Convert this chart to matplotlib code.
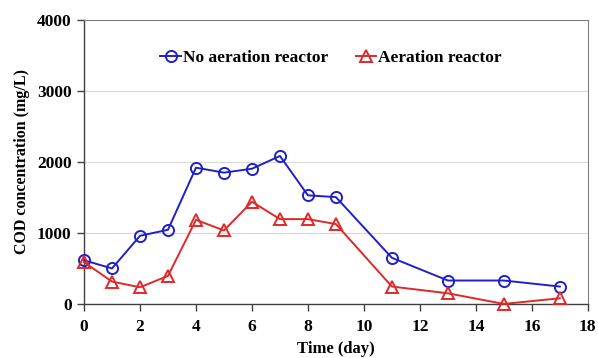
import matplotlib
matplotlib.use("Agg")
import matplotlib.pyplot as plt

plt.rcParams['font.family'] = ['Liberation Serif', 'DejaVu Serif']
plt.rcParams['font.weight'] = 'bold'

days = [0, 1, 2, 3, 4, 5, 6, 7, 8, 9, 11, 13, 15, 17]
no_aeration = [615, 500, 960, 1045, 1920, 1850, 1905, 2085, 1530, 1505, 650, 330, 330, 245]
aeration = [590, 315, 235, 395, 1185, 1035, 1440, 1195, 1195, 1125, 245, 150, 0, 80]

fig = plt.figure(figsize=(5.98, 3.58), dpi=100)
ax = fig.add_axes([0.1405, 0.151, 0.8425, 0.793])

ax.plot(days, no_aeration, color='#2020c8', marker='o', markersize=8,
        markerfacecolor='none', markeredgewidth=1.4, linewidth=1.4,
        label='No aeration reactor', clip_on=False, zorder=3)
ax.plot(days, aeration, color='#e02828', marker='^', markersize=8,
        markerfacecolor='none', markeredgewidth=1.4, linewidth=1.4,
        label='Aeration reactor', clip_on=False, zorder=3)

ax.set_xlim(0, 18)
ax.set_ylim(0, 4000)
ax.set_xticks(range(0, 19, 2))
ax.set_yticks(range(0, 4001, 1000))
ax.grid(axis='y', color='#d9d9d9', linewidth=0.8)
ax.set_axisbelow(True)

for s in ['left', 'bottom']:
    ax.spines[s].set_color('#404040')
    ax.spines[s].set_linewidth(1.0)
for s in ['top', 'right']:
    ax.spines[s].set_color('#808080')
    ax.spines[s].set_linewidth(0.8)

ax.tick_params(direction='out', length=5, width=1, color='#404040',
               labelsize=12.5)
ax.tick_params(axis='x', pad=6)
ax.tick_params(axis='y', pad=4)
for lbl in ax.get_xticklabels() + ax.get_yticklabels():
    lbl.set_fontweight('bold')

ax.set_xlabel('Time (day)', fontsize=12, fontweight='bold', labelpad=4)
ax.set_ylabel('COD concentration (mg/L)', fontsize=11.5, fontweight='bold', labelpad=5)

leg = ax.legend(loc='upper center', bbox_to_anchor=(0.49, 0.95), ncol=2,
                frameon=False, handlelength=1.2, handletextpad=0.1,
                columnspacing=1.6, prop={'size': 12.5, 'weight': 'bold'})

fig.savefig('out.png', dpi=100)
